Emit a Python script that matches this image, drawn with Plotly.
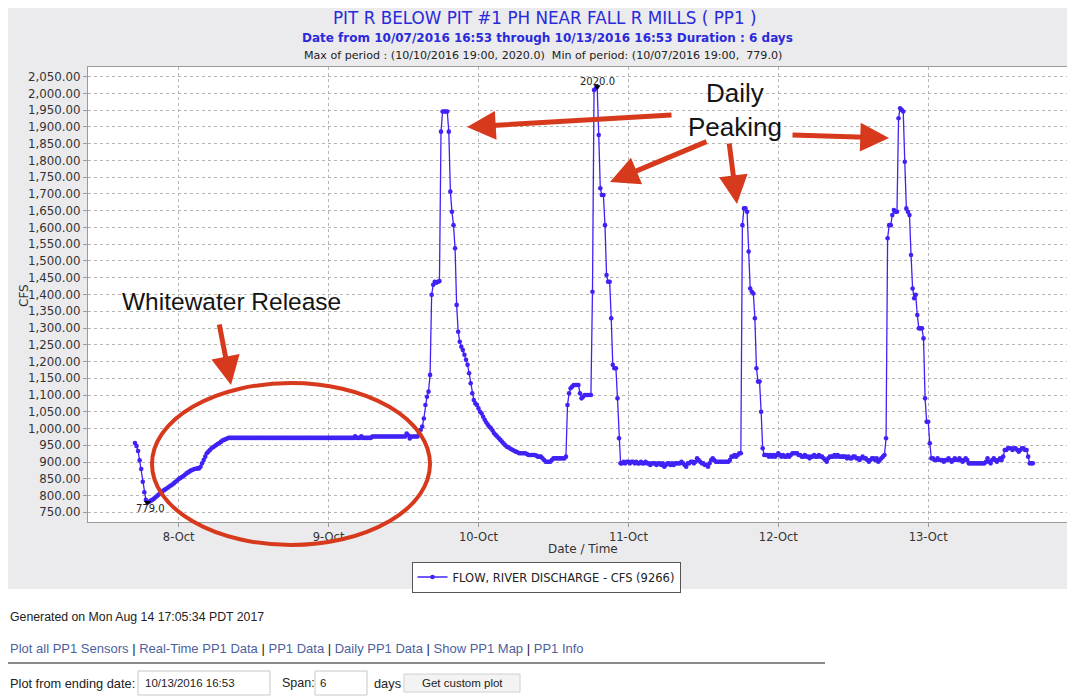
import pandas as pd
import plotly.graph_objects as go

# ---------------- data (15-minute flow readings, CFS) ----------------
START = "2016-10-07 17:00"
STEP = "15min"

flow_oct07 = [
    957, 948, 933, 905, 879, 841, 810, 787, 779, 781, 784, 787,
    790, 794, 798, 802, 806, 810, 814, 817, 820, 823, 827, 830,
    833, 837, 841, 845, 849, 852, 855, 858, 862, 866, 869, 872,
    875, 877, 879, 880, 881, 881, 886, 896, 906, 916, 926, 931,
    936, 941, 944, 947, 951, 954, 957, 960, 964, 966, 968, 970,
    972, 972, 972, 972, 972, 972, 972, 972, 972, 972, 972, 972,
    972, 972, 972, 972, 972, 972, 972, 972, 972, 972, 972, 972,
    972, 972, 972, 972, 972, 972, 972, 972, 972, 972, 972, 972,
]
flow_oct08 = [
    972, 972, 972, 972, 972, 972, 972, 972, 972, 972, 972, 972,
    972, 972, 972, 972, 972, 972, 972, 972, 972, 972, 972, 972,
    972, 972, 972, 972, 972, 972, 972, 972, 972, 972, 972, 972,
    972, 972, 972, 972, 972, 972, 972, 972, 972, 977, 972, 972,
    972, 977, 972, 972, 972, 972, 972, 972, 976, 976, 976, 976,
    976, 976, 976, 976, 976, 976, 976, 976, 976, 976, 976, 976,
    976, 976, 976, 976, 976, 976, 985, 980, 970, 976, 976, 976,
    976, 976, 985, 996, 1006, 1030, 1070, 1095, 1110, 1160, 1399, 1429,
]
flow_oct09 = [
    1438, 1435, 1438, 1440, 1886, 1946, 1946, 1946, 1946, 1886, 1707, 1647,
    1607, 1538, 1369, 1289, 1259, 1244, 1234, 1220, 1205, 1190, 1165, 1135,
    1105, 1085, 1075, 1070, 1060, 1050, 1045, 1035, 1026, 1018, 1011, 1005,
    1001, 994, 986, 981, 976, 971, 966, 961, 956, 951, 946, 944,
    941, 938, 936, 933, 931, 929, 926, 926, 926, 926, 926, 924,
    921, 921, 921, 921, 921, 919, 916, 916, 916, 911, 906, 901,
    901, 901, 901, 906, 911, 911, 911, 911, 911, 911, 911, 911,
    916, 1070, 1105, 1120, 1125, 1130, 1130, 1130, 1130, 1105, 1090, 1095,
]
flow_oct10 = [
    1100, 1100, 1100, 1100, 1100, 1408, 2010, 2015, 2020, 1876, 1717, 1697,
    1697, 1607, 1458, 1438, 1438, 1329, 1190, 1180, 1180, 1090, 971, 896,
    896, 901, 896, 901, 901, 896, 901, 901, 896, 901, 896, 896,
    901, 896, 896, 901, 896, 896, 891, 896, 896, 896, 891, 896,
    896, 891, 896, 886, 891, 896, 896, 891, 896, 891, 896, 896,
    896, 896, 901, 896, 891, 886, 896, 896, 901, 901, 896, 901,
    911, 906, 901, 896, 896, 891, 891, 886, 896, 906, 911, 906,
    901, 901, 901, 901, 901, 901, 901, 901, 901, 906, 916, 916,
]
flow_oct11 = [
    921, 916, 921, 926, 926, 1607, 1657, 1657, 1647, 1528, 1418, 1408,
    1403, 1329, 1180, 1140, 1140, 1050, 941, 921, 921, 921, 916, 921,
    916, 921, 916, 921, 926, 921, 916, 921, 916, 916, 921, 916,
    921, 926, 926, 926, 926, 921, 921, 916, 916, 921, 916, 916,
    911, 916, 916, 921, 916, 916, 921, 916, 916, 911, 906, 901,
    911, 916, 916, 916, 921, 916, 921, 916, 916, 916, 916, 916,
    911, 916, 911, 911, 916, 916, 911, 911, 906, 911, 916, 911,
    911, 906, 901, 906, 911, 911, 906, 911, 901, 906, 911, 916,
]
flow_oct12 = [
    921, 971, 1568, 1607, 1607, 1637, 1652, 1647, 1647, 1926, 1956, 1951,
    1946, 1796, 1657, 1647, 1637, 1518, 1418, 1389, 1399, 1339, 1299, 1299,
    1299, 1269, 1090, 1020, 1020, 956, 911, 911, 906, 906, 911, 906,
    906, 906, 901, 906, 906, 911, 906, 901, 906, 911, 906, 906,
    911, 906, 901, 906, 911, 906, 896, 896, 896, 896, 896, 896,
    896, 896, 896, 896, 896, 901, 911, 901, 896, 906, 911, 906,
    901, 906, 911, 906, 916, 936, 936, 941, 941, 941, 936, 941,
    941, 936, 931, 936, 941, 941, 936, 936, 916, 896, 896, 896,
]

flow = flow_oct07 + flow_oct08 + flow_oct09 + flow_oct10 + flow_oct11 + flow_oct12
times = pd.date_range(START, periods=len(flow), freq=STEP)

x_tick_dates = ["2016-10-08", "2016-10-09", "2016-10-10", "2016-10-11", "2016-10-12", "2016-10-13"]
x_tick_labels = ["8-Oct", "9-Oct", "10-Oct", "11-Oct", "12-Oct", "13-Oct"]
x_range = ["2016-10-07 09:29", "2016-10-13 23:30"]
y_range = [721, 2079]

series_name = "FLOW, RIVER DISCHARGE - CFS (9266)"

# ---------------- layout helpers ----------------
# The page body adds an 8px margin; the figure starts at page (8, 8).
OFF = 8
W, H = 1075 - OFF, 698 - OFF
L, R, T, B = 88 - OFF, 1075 - OFF, 67 - OFF, 522 - OFF


def X(px):  # page pixel -> paper x
    return (px - OFF - L) / (R - L)


def Y(py):  # page pixel -> paper y
    return (B - (py - OFF)) / (B - T)


LINE_COLOR = "#3f22f5"
TITLE_BLUE = "#2a2adb"
RED = "#d7391c"
PANEL = "#ebebed"
FONT = "DejaVu Sans"
PAGE_FONT = "Liberation Sans, Arial, sans-serif"

fig = go.Figure()
fig.add_trace(go.Scatter(
    x=times, y=flow, mode="lines+markers", name=series_name,
    line=dict(color=LINE_COLOR, width=1.3),
    marker=dict(color=LINE_COLOR, size=4.6),
))

# min / max pointers
s = pd.Series(flow, index=times)
imin, imax = s.idxmin(), s.idxmax()
fig.add_trace(go.Scatter(
    x=[imin, imax], y=[s[imin], s[imax]], mode="markers", showlegend=False,
    marker=dict(color="black", size=6, symbol="triangle-down"),
    hoverinfo="skip",
))

annotations = []
shapes = []

# white page area below the grey chart panel
shapes.append(dict(type="rect", xref="paper", yref="paper", layer="below",
                   x0=X(0), x1=X(1080), y0=Y(705), y1=Y(589),
                   fillcolor="white", line=dict(width=0)))


def txt(px, py, text, size, color="#222", family=FONT, xanchor="center", **kw):
    d = dict(x=X(px), y=Y(py), xref="paper", yref="paper", text=text,
             showarrow=False, xanchor=xanchor, yanchor="middle",
             font=dict(family=family, size=size, color=color))
    d.update(kw)
    return d


# titles and axis titles
annotations += [
    txt(545, 18, "PIT R BELOW PIT #1 PH NEAR FALL R MILLS ( PP1 )", 16.8, TITLE_BLUE),
    txt(547, 38, "<b>Date from 10/07/2016 16:53 through 10/13/2016 16:53 Duration : 6 days</b>",
        12, TITLE_BLUE),
    txt(543, 55, "Max of period : (10/10/2016 19:00, 2020.0)  Min of period: (10/07/2016 19:00,  779.0)",
        11.1, "#222"),
    txt(24, 296, "CFS", 12, "#333", textangle=-90),
    txt(583, 549, "Date / Time", 12, "#333"),
]
annotations += [
    dict(x=imin, y=s[imin], xref="x", yref="y", text="779.0", xshift=3, yshift=-6,
         showarrow=False, xanchor="center", yanchor="middle",
         font=dict(family=FONT, size=10, color="#222")),
    dict(x=imax, y=s[imax], xref="x", yref="y", text="2020.0", yshift=5,
         showarrow=False, xanchor="center", yanchor="middle",
         font=dict(family=FONT, size=10, color="#222")),
]

# red overlay annotations
annotations += [
    txt(231, 301, "Whitewater Release", 24.5, "#151515", PAGE_FONT),
    txt(735, 110, "Daily<br>Peaking", 26, "#151515", PAGE_FONT),
]

arrows = [  # (tip_px, tip_py, tail_px, tail_py)
    (467, 127, 673, 115),
    (610, 182, 708, 141),
    (737, 204, 729, 142),
    (889, 138, 791, 135),
    (231, 385, 219, 323),
]
for tx, ty, sx, sy in arrows:
    annotations.append(dict(
        x=X(tx), y=Y(ty), xref="paper", yref="paper", text="",
        showarrow=True, arrowhead=2, arrowsize=1.15, arrowwidth=5,
        arrowcolor=RED, ax=sx - tx, ay=sy - ty, standoff=0, startstandoff=0,
    ))

shapes.append(dict(type="circle", xref="paper", yref="paper", layer="above",
                   x0=X(152), x1=X(430), y0=Y(545), y1=Y(383),
                   line=dict(color=RED, width=4)))

# page footer
link = "#4d5f9e"
links_text = " | ".join(
    f"<span style='color:{link}'>{t}</span>"
    for t in ["Plot all PP1 Sensors", "Real-Time PP1 Data", "PP1 Data",
              "Daily PP1 Data", "Show PP1 Map", "PP1 Info"]
)
annotations += [
    txt(8, 617, "Generated on Mon Aug 14 17:05:34 PDT 2017", 12.3, "#222", PAGE_FONT, "left"),
    txt(8, 648, links_text, 13, "#222", PAGE_FONT, "left"),
    txt(8, 683, "Plot from ending date:", 12.8, "#222", PAGE_FONT, "left"),
    txt(143, 683, "10/13/2016 16:53", 11.5, "#222", PAGE_FONT, "left"),
    txt(280, 683, "Span:", 12.5, "#222", PAGE_FONT, "left"),
    txt(318, 683, "6", 11.5, "#222", PAGE_FONT, "left"),
    txt(372, 683, "days", 12.8, "#222", PAGE_FONT, "left"),
    txt(462, 683, "Get custom plot", 11.5, "#222", PAGE_FONT),
]

shapes += [
    dict(type="line", xref="paper", yref="paper", x0=X(8), x1=X(825), y0=Y(663), y1=Y(663),
         line=dict(color="#8a8a8a", width=2)),
    dict(type="rect", xref="paper", yref="paper", x0=X(138), x1=X(270), y0=Y(695), y1=Y(671),
         fillcolor="white", line=dict(color="#c8c8c8", width=1)),
    dict(type="rect", xref="paper", yref="paper", x0=X(315), x1=X(367), y0=Y(695), y1=Y(671),
         fillcolor="white", line=dict(color="#c8c8c8", width=1)),
    dict(type="rect", xref="paper", yref="paper", x0=X(404), x1=X(520), y0=Y(692), y1=Y(674),
         fillcolor="#f3f3f3", line=dict(color="#d0d0d0", width=1)),
]

fig.update_layout(
    width=W, height=H,
    margin=dict(l=L, r=W - R, t=T, b=H - B, autoexpand=False),
    paper_bgcolor=PANEL, plot_bgcolor="white",
    font=dict(family=FONT, size=11, color="#333"),
    showlegend=True,
    legend=dict(x=X(546), y=Y(577), xanchor="center", yanchor="middle",
                orientation="h", bgcolor="white", bordercolor="#555", borderwidth=1,
                font=dict(family=FONT, size=11.5, color="#222"), itemwidth=30),
    annotations=annotations, shapes=shapes,
    hovermode=False,
)
fig.update_xaxes(
    type="date", range=x_range, tickvals=x_tick_dates, ticktext=x_tick_labels,
    showgrid=True, gridcolor="#b5b5b5", griddash="dot", gridwidth=1,
    showline=True, linecolor="#9a9a9a", mirror=True, ticks="outside", ticklen=4,
    tickcolor="#9a9a9a", tickfont=dict(family=FONT, size=11.5, color="#333"), zeroline=False,
)
fig.update_yaxes(
    range=y_range, tick0=750, dtick=50, tickformat=",.2f",
    showgrid=True, gridcolor="#b5b5b5", griddash="dot", gridwidth=1,
    showline=True, linecolor="#9a9a9a", mirror=False, ticks="outside", ticklen=4,
    tickcolor="#9a9a9a", tickfont=dict(family=FONT, size=11.8, color="#333"), zeroline=False,
)

fig.write_html("out.html", config={"displayModeBar": False})
